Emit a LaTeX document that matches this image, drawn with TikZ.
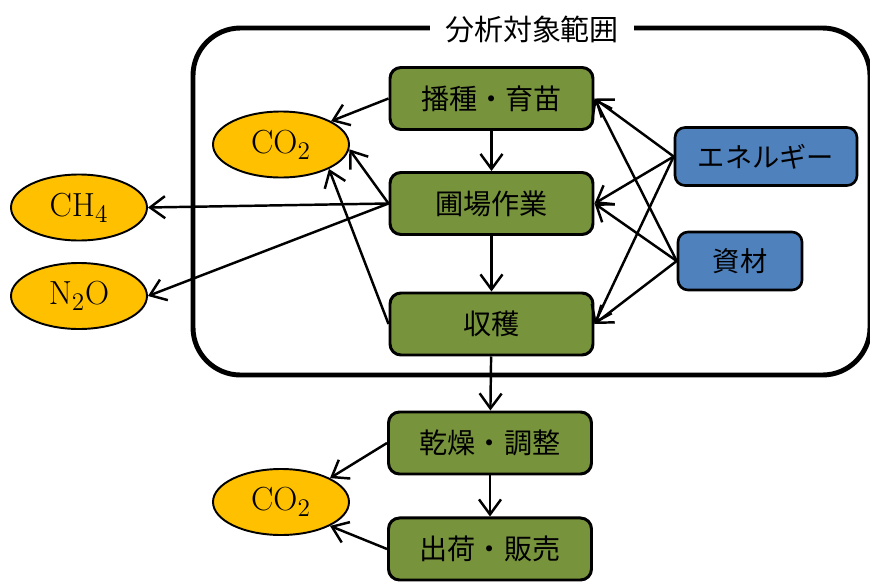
\documentclass[tikz,border=0pt]{standalone}
\usepackage{fontspec}
\usepackage{xcolor}
\usetikzlibrary{positioning,shapes.geometric,arrows.meta}
\newfontfamily\jp{Noto Sans CJK JP}
\definecolor{procgreen}{HTML}{77933C}
\definecolor{inblue}{HTML}{4F81BD}
\definecolor{gasgold}{HTML}{FFC000}
\tikzset{
  proc/.style={draw, line width=1.7pt, rounded corners=0.22cm, fill=procgreen,
    minimum width=4.06cm, minimum height=1.24cm, font=\jp\fontsize{16}{19}\selectfont},
  input/.style={draw, line width=1.5pt, rounded corners=0.2cm, fill=inblue,
    minimum height=1.16cm, font=\jp\fontsize{15.5}{19}\selectfont},
  gas/.style={draw, ellipse, line width=1.1pt, fill=gasgold, inner sep=0pt,
    minimum width=2.72cm, minimum height=1.32cm, font=\fontsize{19}{22}\selectfont},
  arr/.style={line width=1.4pt, -{Straight Barb[length=0.3cm,width=0.44cm,line width=1.4pt]}}
}

\begin{document}
\begin{tikzpicture}
  \useasboundingbox (0,0) rectangle (17.4,11.62);
  \draw[line width=2.8pt, rounded corners=0.95cm] (3.86,4.12) rectangle (17.4,11.06);
  \node[fill=white, inner xsep=0.3cm, font=\jp\fontsize{16.5}{19}\selectfont] (scope) at (10.64,11.04) {分析対象範囲};

  \node[proc] (sow) at (9.83,9.65) {播種・育苗};
  \node[proc] (field) at (9.83,7.55) {圃場作業};
  \node[proc] (harv) at (9.83,5.14) {収穫};
  \node[proc] (dry) at (9.8,2.76) {乾燥・調整};
  \node[proc] (ship) [below=0.82cm of dry] {出荷・販売};

  \node[input, minimum width=3.64cm] (energy) at (15.32,8.49) {エネルギー};
  \node[input, minimum width=2.48cm] (mat) at (14.8,6.4) {資材};

  \node[gas] (co2a) at (5.62,8.73) {CO$_2$};
  \node[gas] (ch4) at (1.58,7.47) {CH$_4$};
  \node[gas] (n2o) at (1.58,5.70) {N$_2$O};
  \node[gas] (co2b) at (5.62,1.58) {CO$_2$};

  \draw[arr] (sow) -- (field);
  \draw[arr] (field) -- (harv);
  \draw[arr] (harv) -- (dry);
  \draw[arr] (dry) -- (ship);

  \draw[arr] (sow.west) -- (co2a.25);
  \draw[arr] (field.west) -- (co2a.-4);
  \draw[arr] (harv.west) -- (co2a.-27);
  \draw[arr] (field.west) -- (ch4.east);
  \draw[arr] (field.west) -- (n2o.east);

  \draw[arr] (energy.west) -- (sow.east);
  \draw[arr] (energy.west) -- (field.east);
  \draw[arr] (energy.west) -- (harv.east);
  \draw[arr] (mat.west) -- (sow.east);
  \draw[arr] (mat.west) -- (field.east);
  \draw[arr] (mat.west) -- (harv.east);

  \draw[arr] (dry.west) -- (co2b.26);
  \draw[arr] (ship.west) -- (co2b.-26);
\end{tikzpicture}
\end{document}
